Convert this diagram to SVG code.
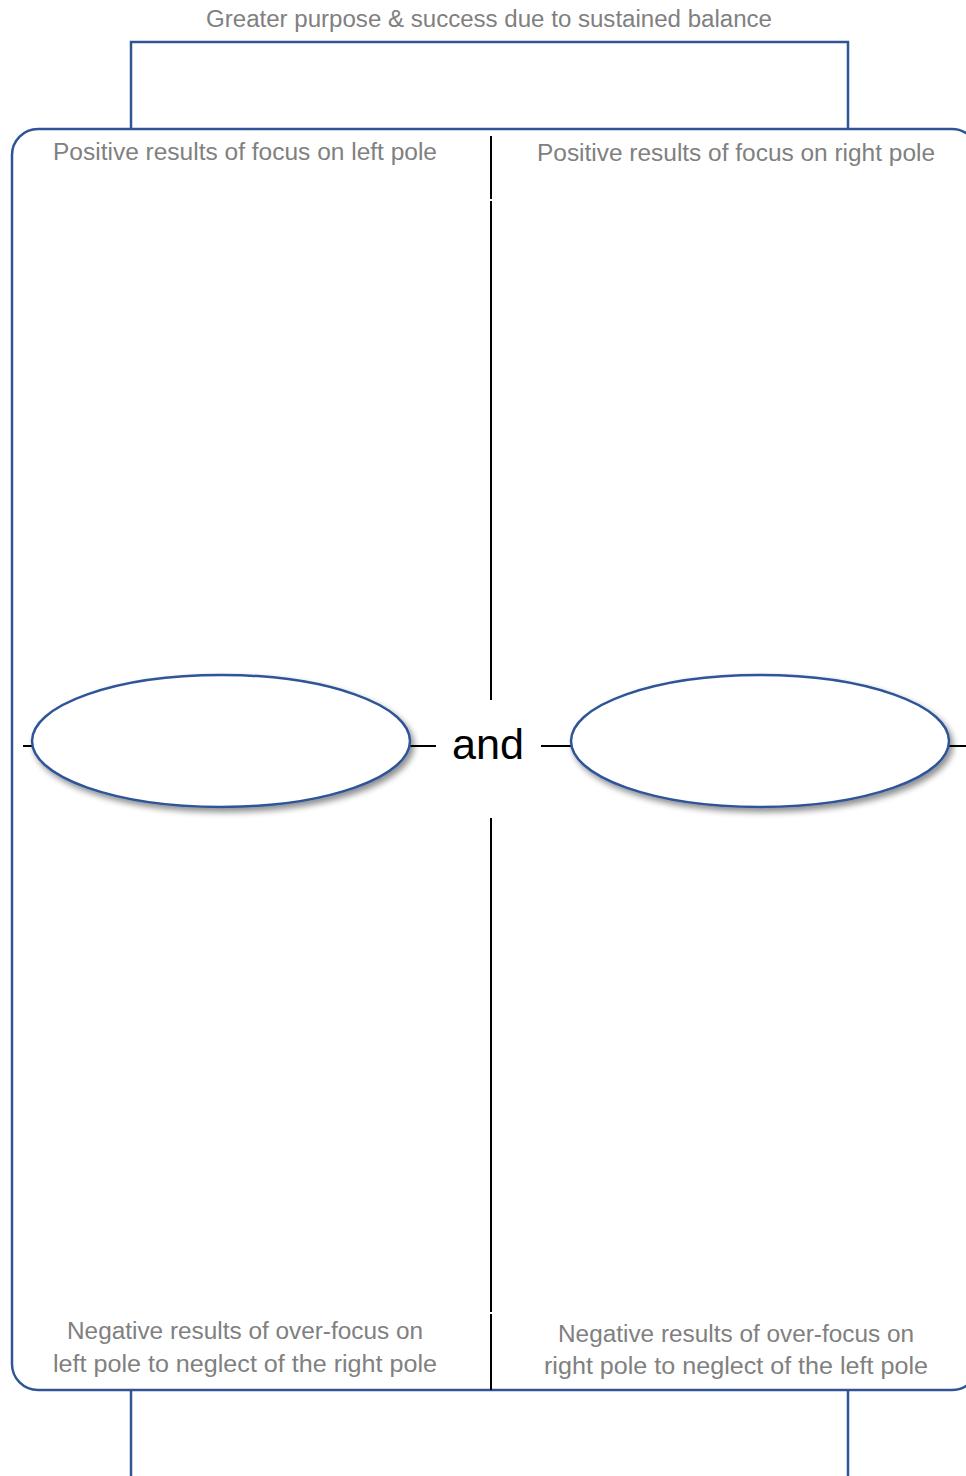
<svg xmlns="http://www.w3.org/2000/svg" width="966" height="1476" viewBox="0 0 966 1476">
<style>
.frame{fill:none;stroke:#2F5597;stroke-width:2.5}
.div{stroke:#000;stroke-width:2;fill:none}
.lbl{font-family:"Liberation Sans",Arial,sans-serif;font-size:23px;fill:#808080;text-anchor:middle}
.and{font-family:"Liberation Sans",Arial,sans-serif;font-size:42px;fill:#000;text-anchor:middle}
.pole{fill:#fff;stroke:#2F5597;stroke-width:2.5}
</style>
<defs>
<filter id="sh" x="-10%" y="-20%" width="125%" height="150%">
<feGaussianBlur in="SourceAlpha" stdDeviation="3"/>
<feOffset dx="3" dy="4" result="b"/>
<feComponentTransfer><feFuncA type="linear" slope="0.45"/></feComponentTransfer>
<feMerge><feMergeNode/><feMergeNode in="SourceGraphic"/></feMerge>
</filter>
</defs>
<g id="frame">
<rect class="frame" x="12" y="129" width="966" height="1261" rx="26"/>
<path class="frame" d="M131 129 V42 H848 V129"/>
<path class="frame" d="M131 1390 V1476 M848 1390 V1476"/>
</g>
<g id="connectors">
<line class="div" x1="491" y1="136" x2="491" y2="199"/>
<line class="div" x1="491" y1="201" x2="491" y2="700"/>
<line class="div" x1="491" y1="818" x2="491" y2="1312"/>
<line class="div" x1="491" y1="1314" x2="491" y2="1390"/>
<line class="div" x1="23" y1="746" x2="34" y2="746"/>
<line class="div" x1="408" y1="746" x2="436" y2="746"/>
<line class="div" x1="541" y1="746" x2="573" y2="746"/>
<line class="div" x1="947" y1="746" x2="966" y2="746"/>
</g>
<g id="top-label"><text class="lbl" x="489" y="27" textLength="566" lengthAdjust="spacingAndGlyphs">Greater purpose &amp; success due to sustained balance</text></g>
<g id="q-left-top"><text class="lbl" x="245" y="160" textLength="384" lengthAdjust="spacingAndGlyphs">Positive results of focus on left pole</text></g>
<g id="q-right-top"><text class="lbl" x="736" y="161" textLength="398" lengthAdjust="spacingAndGlyphs">Positive results of focus on right pole</text></g>
<g id="q-left-bottom">
<text class="lbl" x="245" y="1339" textLength="356" lengthAdjust="spacingAndGlyphs">Negative results of over-focus on</text>
<text class="lbl" x="245" y="1372" textLength="384" lengthAdjust="spacingAndGlyphs">left pole to neglect of the right pole</text>
</g>
<g id="q-right-bottom">
<text class="lbl" x="736" y="1342" textLength="356" lengthAdjust="spacingAndGlyphs">Negative results of over-focus on</text>
<text class="lbl" x="736" y="1374" textLength="384" lengthAdjust="spacingAndGlyphs">right pole to neglect of the left pole</text>
</g>
<g id="left-pole"><ellipse class="pole" cx="221" cy="741" rx="189" ry="66" filter="url(#sh)"/></g>
<g id="right-pole"><ellipse class="pole" cx="760" cy="741" rx="189" ry="66" filter="url(#sh)"/></g>
<g id="and"><text class="and" x="488" y="759" textLength="72" lengthAdjust="spacingAndGlyphs">and</text></g>
</svg>
